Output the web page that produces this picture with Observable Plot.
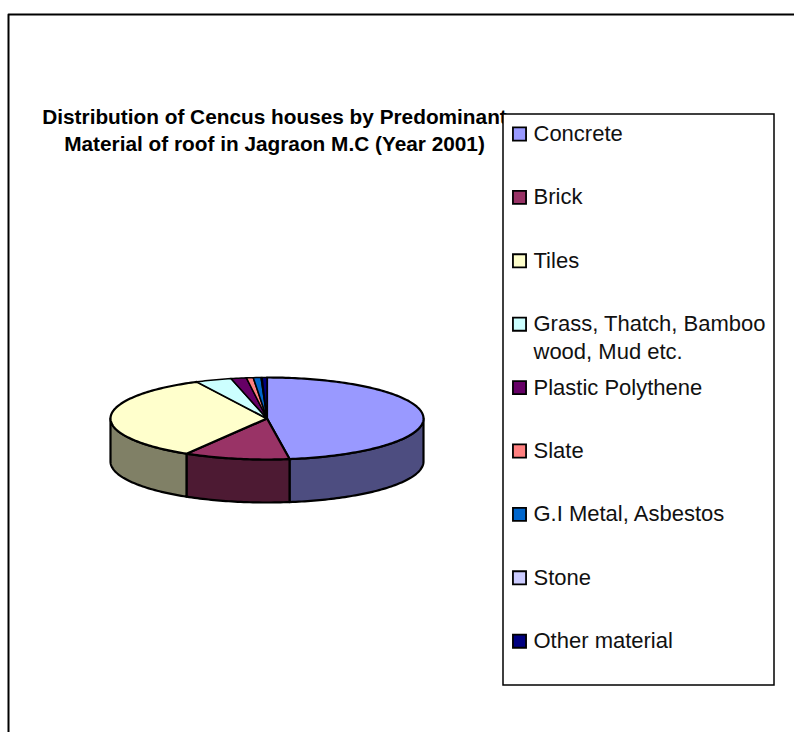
<!DOCTYPE html>
<html>
<head>
<meta charset="utf-8">
<script src="https://cdn.jsdelivr.net/npm/d3@7"></script>
<script src="https://cdn.jsdelivr.net/npm/@observablehq/plot@0.6"></script>
<style>html,body{margin:0;padding:0;background:#fff}svg{display:block}</style>
</head>
<body>
<div id="chart"></div>
<script>
const categories = ["Concrete", "Brick", "Tiles", "Grass, Thatch, Bamboo\nwood, Mud etc.", "Plastic Polythene", "Slate", "G.I Metal, Asbestos", "Stone", "Other material"];
const shares = [47.7, 10.9, 34.0, 3.7, 1.6, 0.7, 0.8, 0.1, 0.5];
const topColors = ["#9999FF", "#993366", "#FFFFCC", "#CCFFFF", "#660066", "#FF8080", "#0066CC", "#CCCCFF", "#000080"];
const sideColors = ["#4D4D80", "#4D1A33", "#808066", "#668080", "#330033", "#804040", "#003366", "#666680", "#000040"];
const titleLines = ["Distribution of Cencus houses by Predominant", "Material of roof in Jagraon M.C (Year 2001)"];

const W = 794, H = 732;
const pie = {cx: 266.5, cy: 418, rx: 156.5, ry: 41, depth: 43};
const legend = {x1: 503, x2: 774, y1: 114, y2: 685, firstY: 133.5, step: 63.4, swatchX: 519, textX: 533};

const total = d3.sum(shares);
const cumulative = d3.cumsum(shares);
const arcs = shares.map((v, i) => ({
  a0: ((cumulative[i] - v) / total) * 2 * Math.PI,
  a1: (cumulative[i] / total) * 2 * Math.PI
}));
const px = (a) => pie.cx + pie.rx * Math.sin(a);
const py = (a) => pie.cy - pie.ry * Math.cos(a);
const arcPts = (a0, a1) => {
  const n = Math.max(2, Math.ceil((a1 - a0) / 0.02));
  return d3.range(n + 1).map((k) => a0 + ((a1 - a0) * k) / n);
};
const topPoly = ({a0, a1}) => [
  {x: pie.cx, y: pie.cy},
  ...arcPts(a0, a1).map((a) => ({x: px(a), y: py(a)})),
  {x: pie.cx, y: pie.cy}
];
const sidePoly = ({a0, a1}) => {
  const lo = Math.max(a0, Math.PI / 2), hi = Math.min(a1, 1.5 * Math.PI);
  if (hi <= lo) return null;
  const upper = arcPts(lo, hi).map((a) => ({x: px(a), y: py(a)}));
  const lower = upper.slice().reverse().map((p) => ({x: p.x, y: p.y + pie.depth}));
  return [...upper, ...lower, upper[0]];
};

const marks = [];
// outer chart frame (open on the cropped right and bottom sides)
marks.push(Plot.line([{x: 8, y: H}, {x: 8, y: 14}, {x: W, y: 14}], {x: "x", y: "y", stroke: "#000", strokeWidth: 2}));
// pie walls
arcs.forEach((arc, i) => {
  const poly = sidePoly(arc);
  if (poly) marks.push(Plot.line(poly, {x: "x", y: "y", fill: sideColors[i], stroke: "#000", strokeWidth: 2.2, curve: "linear"}));
});
// pie top
arcs.forEach((arc, i) => {
  marks.push(Plot.line(topPoly(arc), {x: "x", y: "y", fill: topColors[i], stroke: "#000", strokeWidth: i > 2 ? 1.5 : 2.2, curve: "linear"}));
});
// title
titleLines.forEach((t, i) => {
  marks.push(Plot.text([t], {x: () => 274, y: () => 116.5 + i * 27.3, text: (d) => d, fontFamily: "Liberation Sans", fontWeight: "bold", fontSize: 20.8, fill: "#000", textAnchor: "middle"}));
});
// legend box
marks.push(Plot.rect([legend], {x1: "x1", x2: "x2", y1: "y1", y2: "y2", fill: "#fff", stroke: "#000", strokeWidth: 1.5}));
// legend entries
const rows = categories.map((name, i) => ({name, color: topColors[i], y: legend.firstY + i * legend.step}));
marks.push(Plot.dot(rows, {x: () => legend.swatchX, y: "y", symbol: "square", r: 7.4, fill: "color", stroke: "#000", strokeWidth: 1.8}));
const textLines = rows.flatMap((r) => r.name.split("\n").map((line, k) => ({line, y: r.y + k * 28})));
marks.push(Plot.text(textLines, {x: () => legend.textX, y: "y", text: "line", textAnchor: "start", fontFamily: "Liberation Sans", fontSize: 22, fill: "#111"}));

const chart = Plot.plot({
  width: W, height: H, margin: 0,
  style: {background: "#fff"},
  x: {domain: [0, W], range: [0, W], axis: null},
  y: {domain: [0, H], range: [0, H], axis: null},
  color: {type: "identity"},
  marks
});
document.getElementById("chart").append(chart);
</script>
</body>
</html>
